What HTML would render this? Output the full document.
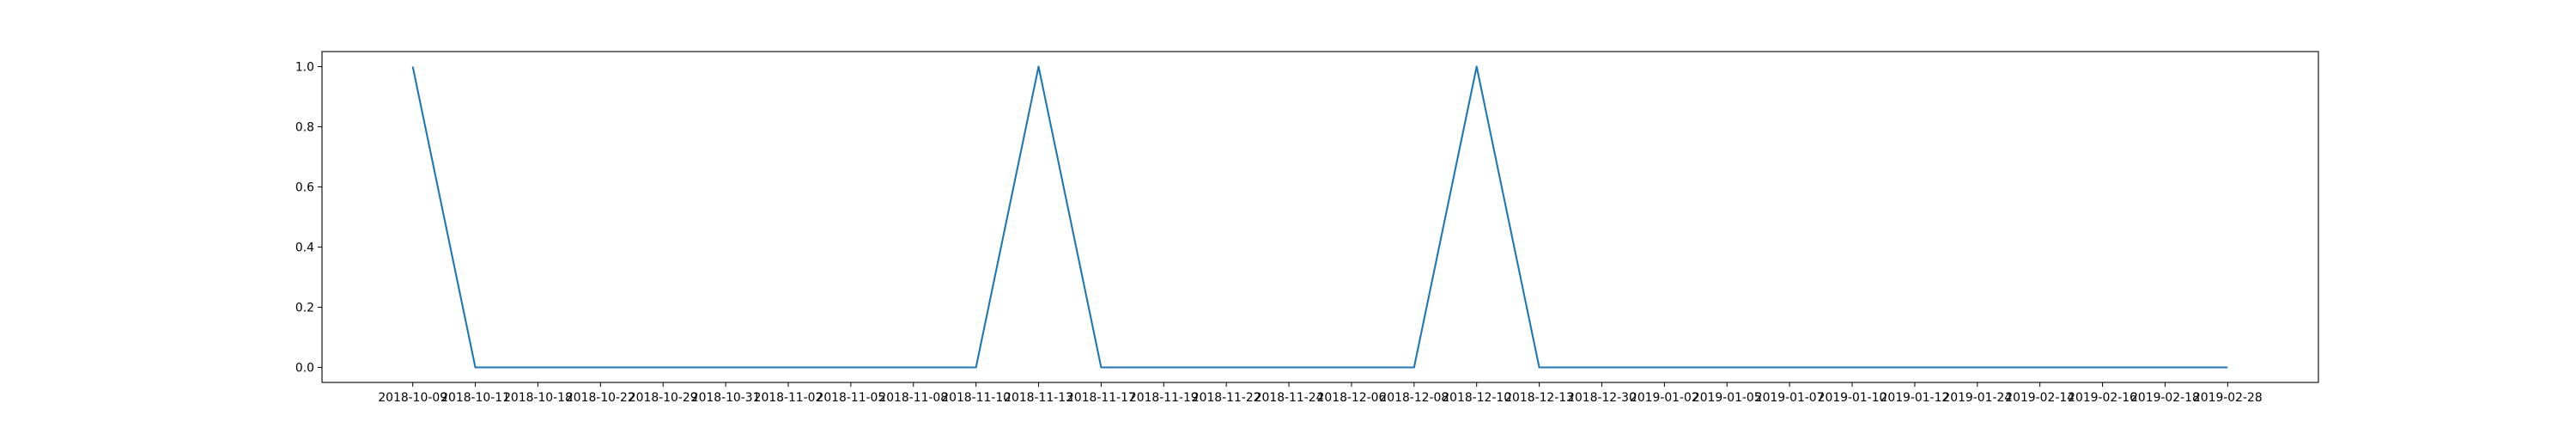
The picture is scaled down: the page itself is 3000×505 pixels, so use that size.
<!DOCTYPE html>
<html><head><meta charset="utf-8"><style>
html,body{margin:0;padding:0;background:#fff;}
svg text{font-family:"DejaVu Sans","Liberation Sans",sans-serif;font-size:13.9px;fill:#000;}
</style></head><body>
<svg id="chart" width="3000" height="500" xmlns="http://www.w3.org/2000/svg">
<rect x="0" y="0" width="3000" height="500" fill="#fff"/>
<g id="grid"></g>
</svg>
<script>
const categories = ["2018-10-09","2018-10-11","2018-10-18","2018-10-22","2018-10-29","2018-10-31","2018-11-02","2018-11-05","2018-11-08","2018-11-10","2018-11-13","2018-11-17","2018-11-19","2018-11-22","2018-11-24","2018-12-06","2018-12-08","2018-12-10","2018-12-13","2018-12-30","2019-01-02","2019-01-05","2019-01-07","2019-01-10","2019-01-12","2019-01-24","2019-02-14","2019-02-16","2019-02-18","2019-02-28"];
const values = [1,0,0,0,0,0,0,0,0,0,1,0,0,0,0,0,0,1,0,0,0,0,0,0,0,0,0,0,0,0];
const yTicks = [0.0,0.2,0.4,0.6,0.8,1.0];
const yTickLabels = ["0.0","0.2","0.4","0.6","0.8","1.0"];

const NS="http://www.w3.org/2000/svg";
const svg=document.getElementById('chart');
const L=375,R=2700,T=60,B=445;
const n=categories.length;
const xMin=-0.05*(n-1), xMax=(n-1)*1.05;
function xs(i){return L+(i-xMin)/(xMax-xMin)*(R-L);}
const yMin=-0.05, yMax=1.05;
function ys(v){return B-(v-yMin)/(yMax-yMin)*(B-T);}
function mk(tag,attrs){const e=document.createElementNS(NS,tag);for(const k in attrs)e.setAttribute(k,attrs[k]);svg.appendChild(e);return e;}

yTicks.forEach((v,i)=>{
  const t=mk('line',{x1:L-5,x2:L,y1:ys(v),y2:ys(v),stroke:'#000','stroke-width':1});
  
  
  const lb=mk('text',{x:L-9,y:ys(v)+5,'text-anchor':'end'});
  lb.textContent=yTickLabels[i];
  
  
});
categories.forEach((c,i)=>{
  const t=mk('line',{x1:xs(i),x2:xs(i),y1:B,y2:B+5,stroke:'#000','stroke-width':1});
  
  
  const lb=mk('text',{x:xs(i),y:B+22,'text-anchor':'middle'});
  lb.textContent=c;
  
  
});
const pts=values.map((v,i)=>xs(i).toFixed(2)+','+ys(v).toFixed(2)).join(' ');
const line=mk('polyline',{points:pts,fill:'none',stroke:'#1f77b4','stroke-width':2.1,'stroke-linejoin':'round'});


const frame=mk('rect',{x:L,y:T,width:R-L,height:B-T,fill:'none',stroke:'#000','stroke-width':1.1});


</script>
</body></html>
